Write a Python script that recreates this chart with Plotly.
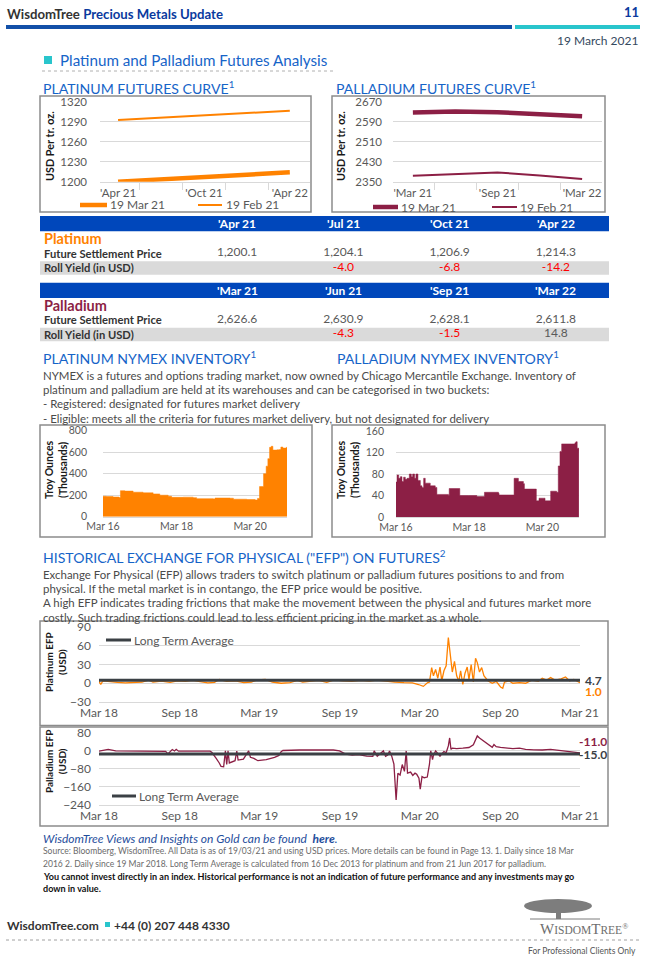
import plotly.graph_objects as go

# ---------------- DATA ----------------
pt_contracts = ["'Apr 21", "'Jul 21", "'Oct 21", "'Jan 22", "'Apr 22"]
pt_curve_mar = [1200.1, 1204.1, 1206.9, 1210.5, 1214.3]
pt_curve_feb = [1292.5, 1296.0, 1299.5, 1303.0, 1306.5]

pd_contracts = ["'Mar 21", "'Jun 21", "'Sep 21", "'Dec 21", "'Mar 22"]
pd_curve_mar = [2626.6, 2630.9, 2628.1, 2622.0, 2611.8]
pd_curve_feb = [2374.0, 2382.0, 2387.0, 2375.0, 2361.0]

curve_series = ["19 Mar 21", "19 Feb 21"]

pt_table_months = ["'Apr 21", "'Jul 21", "'Oct 21", "'Apr 22"]
pt_settle = [1200.1, 1204.1, 1206.9, 1214.3]
pt_roll = [None, -4.0, -6.8, -14.2]

pd_table_months = ["'Mar 21", "'Jun 21", "'Sep 21", "'Mar 22"]
pd_settle = [2626.6, 2630.9, 2628.1, 2611.8]
pd_roll = [None, -4.3, -1.5, 14.8]

table_rows = ["Future Settlement Price", "Roll Yield (in USD)"]

pt_inv_dates = ["2016-03-18", "2016-04-20", "2016-06-26", "2016-08-24", "2016-09-07", "2016-10-20",
                "2017-01-11", "2017-04-20", "2017-07-29", "2017-10-03", "2017-12-25", "2018-01-28",
                "2018-05-24", "2018-08-31", "2018-10-04", "2019-03-19", "2019-04-04", "2019-09-01",
                "2019-10-04", "2020-02-14", "2020-05-07", "2020-05-30", "2020-06-19", "2020-07-29",
                "2020-08-24", "2020-09-10", "2020-09-27", "2020-10-13", "2020-10-30", "2020-12-09",
                "2021-01-04", "2021-01-17", "2021-02-06", "2021-03-12", "2021-03-19"]
pt_inv_vals = [190, 188, 183, 178, 242, 238,
               228, 222, 212, 200, 190, 180,
               182, 177, 168, 165, 174, 172,
               163, 160, 155, 170, 280, 400,
               470, 540, 645, 655, 620, 622,
               625, 648, 638, 645, 645]

pd_inv_dates = ["2016-03-18", "2016-03-28", "2016-04-14", "2016-04-30", "2016-05-17", "2016-06-02",
                "2016-06-19", "2016-07-06", "2016-07-29", "2016-08-18", "2016-08-31", "2016-09-20",
                "2016-10-03", "2016-10-23", "2016-11-16", "2016-12-02", "2016-12-19", "2017-01-04",
                "2017-02-23", "2017-04-14", "2017-04-30", "2017-08-24", "2017-08-31", "2017-12-09",
                "2017-12-15", "2018-03-12", "2018-06-03", "2018-08-18", "2019-01-05", "2019-01-11",
                "2019-06-03", "2019-06-10", "2019-07-23", "2019-09-11", "2019-09-21", "2020-01-12",
                "2020-01-18", "2020-02-14", "2020-03-28", "2020-04-14", "2020-06-02", "2020-06-09",
                "2020-08-08", "2020-08-24", "2020-09-10", "2020-09-27", "2021-01-04", "2021-02-06",
                "2021-02-16", "2021-03-01", "2021-03-18"]
pd_inv_vals = [65, 78, 72, 75, 66, 74,
               70, 72, 80, 75, 80, 72,
               80, 68, 58, 55, 72, 63,
               58, 55, 42, 40, 53, 53,
               40, 40, 38, 46, 44, 41,
               41, 72, 66, 62, 52, 52,
               30, 35, 35, 30, 30, 48,
               46, 95, 122, 136, 136, 138,
               140, 128, 122]

pt_efp_dates = ["2018-03-19", "2018-03-23", "2018-03-28", "2018-04-12", "2018-04-30", "2018-05-18",
                "2018-06-08", "2018-06-25", "2018-07-10", "2018-07-20", "2018-08-08", "2018-08-28",
                "2018-09-14", "2018-10-02", "2018-10-18", "2018-11-05", "2018-11-22", "2018-12-07",
                "2018-12-18", "2019-01-04", "2019-01-24", "2019-02-12", "2019-03-01", "2019-03-15",
                "2019-04-02", "2019-04-18", "2019-05-08", "2019-05-28", "2019-06-14", "2019-06-26",
                "2019-07-12", "2019-08-01", "2019-08-20", "2019-09-06", "2019-09-25", "2019-10-16",
                "2019-11-05", "2019-11-25", "2019-12-12", "2020-01-02", "2020-01-22", "2020-02-12",
                "2020-03-02", "2020-03-16", "2020-03-27", "2020-04-06", "2020-04-10", "2020-04-15",
                "2020-04-19", "2020-04-24", "2020-04-29", "2020-05-04", "2020-05-08", "2020-05-13",
                "2020-05-18", "2020-05-23", "2020-05-28", "2020-06-01", "2020-06-06", "2020-06-11",
                "2020-06-16", "2020-06-20", "2020-06-25", "2020-06-30", "2020-07-05", "2020-07-09",
                "2020-07-14", "2020-07-19", "2020-07-24", "2020-07-28", "2020-08-02", "2020-08-07",
                "2020-08-12", "2020-08-16", "2020-08-21", "2020-08-31", "2020-09-09", "2020-09-19",
                "2020-09-24", "2020-09-28", "2020-10-08", "2020-10-17", "2020-11-01", "2020-11-15",
                "2020-11-29", "2020-12-14", "2020-12-23", "2021-01-02", "2021-01-11", "2021-01-21",
                "2021-02-04", "2021-02-14", "2021-02-23", "2021-03-05", "2021-03-14", "2021-03-19"]
pt_efp_vals = [3.0, -2.0, 4.0, 2.5, 1.5, 0.5,
               1.0, 2.0, 5.0, 2.0, 3.5, 1.5,
               4.0, 3.0, 4.5, 2.0, 0.5, 1.5,
               6.0, 3.0, 4.0, 1.0, 2.0, 5.5,
               6.0, 2.0, 0.0, 1.0, 4.5, 2.0,
               3.0, 4.5, 1.5, 5.5, 4.0, 3.0,
               4.5, 3.5, 5.0, 3.0, 2.0, 1.0,
               0.5, -2.0, -5.0, 1.0, 2.0, 25.0,
               12.0, 22.0, 8.0, 26.0, 4.0, 20.0,
               28.0, 73.0, 38.0, 18.0, 35.0, 12.0,
               3.0, 20.0, -2.0, 16.0, 26.0, 6.0,
               30.0, 2.0, 40.0, 33.0, 18.0, 25.0,
               12.0, 8.0, 4.0, 0.0, 3.0, -6.0,
               -8.0, 2.0, 4.0, 0.0, 1.0, 0.0,
               5.0, 3.0, 8.0, 5.0, 9.0, 5.0,
               7.0, 10.0, 4.0, 6.0, 2.0, 1.0]
PT_LTA = 4.7

pd_efp_dates = ["2018-03-19", "2018-04-09", "2018-04-26", "2018-06-03", "2018-07-11", "2018-08-18",
                "2018-08-23", "2018-08-28", "2018-09-02", "2018-09-07", "2018-09-11", "2018-09-16",
                "2018-10-24", "2018-11-27", "2018-12-01", "2018-12-06", "2018-12-11", "2018-12-18",
                "2018-12-22", "2018-12-28", "2019-01-01", "2019-01-04", "2019-01-07", "2019-01-10",
                "2019-01-16", "2019-01-23", "2019-01-27", "2019-01-30", "2019-02-11", "2019-02-23",
                "2019-02-27", "2019-03-07", "2019-03-16", "2019-04-04", "2019-04-23", "2019-05-03",
                "2019-05-08", "2019-05-12", "2019-06-19", "2019-07-28", "2019-09-04", "2019-09-18",
                "2019-09-23", "2019-10-02", "2019-10-17", "2019-10-31", "2019-11-19", "2019-12-03",
                "2019-12-06", "2019-12-13", "2019-12-27", "2020-01-01", "2020-01-06", "2020-01-10",
                "2020-01-15", "2020-01-20", "2020-01-25", "2020-01-29", "2020-02-03", "2020-02-08",
                "2020-02-13", "2020-02-17", "2020-02-20", "2020-02-27", "2020-03-03", "2020-03-08",
                "2020-03-12", "2020-03-17", "2020-03-20", "2020-03-24", "2020-03-29", "2020-04-05",
                "2020-04-10", "2020-04-13", "2020-04-17", "2020-04-19", "2020-04-24", "2020-04-29",
                "2020-05-04", "2020-05-08", "2020-05-13", "2020-05-18", "2020-05-23", "2020-05-26",
                "2020-05-29", "2020-06-01", "2020-06-11", "2020-06-25", "2020-07-09", "2020-07-19",
                "2020-07-28", "2020-08-02", "2020-08-12", "2020-08-21", "2020-08-31", "2020-09-04",
                "2020-09-09", "2020-09-19", "2020-10-03", "2020-10-17", "2020-11-01", "2020-11-15",
                "2020-12-04", "2020-12-23", "2021-01-11", "2021-01-26", "2021-02-09", "2021-02-18",
                "2021-03-05", "2021-03-14", "2021-03-19"]
pd_efp_vals = [-3, 5, -2, -3, -2, -4,
               -15, -5, 4, -2, 5, -3,
               -4, -3, -8, -20, -35, -55,
               -70, -72, -2, -62, -2, -55,
               -50, -45, -3, -42, -38, -2,
               -30, -35, -45, -40, -30, -22,
               -5, 0, 2, 1, 2, -2,
               -8, -16, -20, -18, -25, -26,
               -2, -25, -2, -26, -20, -2,
               -25, -60, -218, -100, -108, -62,
               -92, -2, -100, -95, -110, -100,
               -105, -122, -170, -115, -120, -117,
               -60, -2, -40, -22, -2, -12,
               -25, -15, -5, -10, 20, 55,
               5, 10, 8, 10, 13, 25,
               64, 55, 42, 30, 14, 26,
               17, 14, 10, 8, 10, 5,
               3, 2, 5, 2, -2, -5,
               -8, -10, -11.0]
PD_LTA = -15.0

# ---------------- STYLE / HELPERS ----------------
W, H = 650, 956
def X(p): return p / W
def Y(p): return 1 - p / H

FONT = "Lato"
ORANGE = "#FF8200"
WINE = "#8C1F45"
TITLE_BLUE = "#1664C8"
NAVY = "#0A3A9E"
TABLE_BLUE = "#0047BB"
TEAL = "#29C5CC"
GRAY_TXT = "#595959"
GRID = "#D9D9D9"
BOX = "#8C8C8C"
LTA_COL = "#3B4045"
def tickf(size): return dict(family=FONT, size=size, color=GRAY_TXT)
SEC = 14.1      # section title size
PARA = 11.45    # paragraph size

annotations = []
shapes = []

def txt(x, y, s, size=12, color="#3a3a3a", anchor="left", angle=0, family=FONT, xref="paper", yref="paper", xv=None, yv=None):
    annotations.append(dict(
        x=X(x) if xv is None else xv, y=Y(y) if yv is None else yv,
        xref=xref, yref=yref, text=s, showarrow=False,
        xanchor=anchor, yanchor="middle", textangle=angle,
        font=dict(family=family, size=size, color=color)))

def rect(x0, y0, x1, y1, fill=None, line=None, lw=1.5):
    shapes.append(dict(type="rect", xref="paper", yref="paper",
                       x0=X(x0), x1=X(x1), y0=Y(y0), y1=Y(y1),
                       fillcolor=fill if fill else "rgba(0,0,0,0)",
                       line=dict(color=line if line else "rgba(0,0,0,0)", width=lw if line else 0),
                       layer="below"))

def hline(x0, x1, y, color, width=1, dash="solid"):
    shapes.append(dict(type="line", xref="paper", yref="paper",
                       x0=X(x0), x1=X(x1), y0=Y(y), y1=Y(y),
                       line=dict(color=color, width=width, dash=dash)))

fig = go.Figure()

# ---------------- FUTURES CURVES ----------------
xi = list(range(len(pt_contracts)))
fig.add_trace(go.Scatter(x=xi, y=pt_curve_feb, mode="lines", line=dict(color=ORANGE, width=2),
                         xaxis="x", yaxis="y", name=curve_series[1]))
fig.add_trace(go.Scatter(x=xi, y=pt_curve_mar, mode="lines", line=dict(color=ORANGE, width=4.5),
                         xaxis="x", yaxis="y", name=curve_series[0]))
xi2 = list(range(len(pd_contracts)))
fig.add_trace(go.Scatter(x=xi2, y=pd_curve_feb, mode="lines", line=dict(color=WINE, width=2),
                         xaxis="x2", yaxis="y2", name=curve_series[1]))
fig.add_trace(go.Scatter(x=xi2, y=pd_curve_mar, mode="lines", line=dict(color=WINE, width=4.5),
                         xaxis="x2", yaxis="y2", name=curve_series[0]))

# ---------------- INVENTORY ----------------
fig.add_trace(go.Scatter(x=pt_inv_dates, y=pt_inv_vals, mode="lines",
                         line=dict(color=ORANGE, width=0.5, shape="hv"), fill="tozeroy",
                         fillcolor=ORANGE, xaxis="x3", yaxis="y3"))
fig.add_trace(go.Scatter(x=pd_inv_dates, y=pd_inv_vals, mode="lines",
                         line=dict(color=WINE, width=0.5, shape="hv"), fill="tozeroy",
                         fillcolor=WINE, xaxis="x4", yaxis="y4"))

# ---------------- EFP ----------------
fig.add_trace(go.Scatter(x=pt_efp_dates, y=pt_efp_vals, mode="lines",
                         line=dict(color=ORANGE, width=1.3), xaxis="x5", yaxis="y5"))
fig.add_trace(go.Scatter(x=[pt_efp_dates[0], pt_efp_dates[-1]], y=[PT_LTA, PT_LTA], mode="lines",
                         line=dict(color=LTA_COL, width=3), xaxis="x5", yaxis="y5"))
fig.add_trace(go.Scatter(x=pd_efp_dates, y=pd_efp_vals, mode="lines",
                         line=dict(color=WINE, width=1.3), xaxis="x6", yaxis="y6"))
fig.add_trace(go.Scatter(x=[pd_efp_dates[0], pd_efp_dates[-1]], y=[PD_LTA, PD_LTA], mode="lines",
                         line=dict(color=LTA_COL, width=3), xaxis="x6", yaxis="y6"))

# ---------------- TABLES ----------------
def table_traces(months, settle, roll, xa, ya):
    fig.add_trace(go.Scatter(x=months, y=[1] * len(months), mode="text",
                             text=[f"{v:,.1f}" for v in settle],
                             textfont=dict(family=FONT, size=12, color=GRAY_TXT),
                             xaxis=xa, yaxis=ya, hoverinfo="skip"))
    rm = [m for m, v in zip(months, roll) if v is not None]
    rv = [v for v in roll if v is not None]
    fig.add_trace(go.Scatter(x=rm, y=[2] * len(rm), mode="text",
                             text=[f"{v:.1f}" for v in rv],
                             textfont=dict(family=FONT, size=12,
                                           color=["#FF0000" if v < 0 else GRAY_TXT for v in rv]),
                             xaxis=xa, yaxis=ya, hoverinfo="skip"))

table_traces(pt_table_months, pt_settle, pt_roll, "x7", "y7")
table_traces(pd_table_months, pd_settle, pd_roll, "x8", "y8")

for trace in fig.data:
    trace.showlegend = False

# ---------------- AXES ----------------
def curve_x(d0, d1, anchor, rng, labels):
    return dict(domain=[X(d0), X(d1)], anchor=anchor, range=rng,
                tickmode="array", tickvals=[0, 2, 4], ticktext=[labels[i] for i in (0, 2, 4)],
                showgrid=False, zeroline=False, showline=True, linecolor=GRID, ticks="",
                minor=dict(tickmode="array", tickvals=[0.5, 1.5, 2.5, 3.5], ticks="outside",
                           ticklen=7, tickcolor=GRID, showgrid=False),
                tickfont=tickf(11.5), fixedrange=True, automargin=False)

def num_y(top, bot, anchor, rng, dtick, standoff=6, fs=12):
    return dict(domain=[Y(bot), Y(top)], anchor=anchor, range=rng, dtick=dtick, tick0=0,
                gridcolor=GRID, showline=False, zeroline=False, ticks="",
                tickfont=tickf(fs), ticklabelstandoff=standoff, fixedrange=True, automargin=False)

def date_x(d0, d1, anchor, rng, tick0, dtick, fs=12):
    return dict(domain=[X(d0), X(d1)], anchor=anchor, type="date", range=rng,
                tick0=tick0, dtick=dtick, tickformat="%b %y", showgrid=False, zeroline=False,
                showline=True, linecolor=GRID, ticks="", tickfont=tickf(fs), fixedrange=True,
                automargin=False)

axes = dict(
    xaxis=curve_x(100, 310, "y", [-0.42, 4.47], pt_contracts),
    yaxis=dict(num_y(101.7, 181.7, "x", [1200, 1320], 30, standoff=12, fs=11.5), tick0=1200),
    xaxis2=curve_x(393, 602, "y2", [-0.47, 4.47], pd_contracts),
    yaxis2=dict(num_y(101.7, 181.7, "x2", [2350, 2670], 80, standoff=10, fs=11.5), tick0=2350),
    xaxis3=date_x(103, 287, "y3", ["2016-03-18", "2021-03-19"], "2016-03-18", "M24", fs=10.5),
    yaxis3=num_y(430.7, 516.7, "x3", [0, 800], 200, standoff=15, fs=10.5),
    xaxis4=date_x(396, 579, "y4", ["2016-03-18", "2021-03-19"], "2016-03-18", "M24", fs=10.5),
    yaxis4=num_y(431, 517, "x4", [0, 160], 40, standoff=11, fs=10.5),
    xaxis5=date_x(99, 580, "y5", ["2018-03-19", "2021-03-19"], "2018-03-19", "M6"),
    yaxis5=dict(num_y(627, 702, "x5", [-30, 90], 30, standoff=7), tick0=-30),
    xaxis6=date_x(99, 580, "y6", ["2018-03-19", "2021-03-19"], "2018-03-19", "M6"),
    yaxis6=dict(num_y(732.3, 805, "x6", [-240, 80], 80, standoff=7), tick0=-240),
    xaxis7=dict(domain=[X(184), X(609)], anchor="y7", type="category", range=[-0.5, 3.5],
                visible=False, fixedrange=True),
    yaxis7=dict(domain=[Y(275), Y(231.3)], anchor="x7", range=[2.5, -0.5], visible=False, fixedrange=True),
    xaxis8=dict(domain=[X(184), X(609)], anchor="y8", type="category", range=[-0.5, 3.5],
                visible=False, fixedrange=True),
    yaxis8=dict(domain=[Y(341.3), Y(298)], anchor="x8", range=[2.5, -0.5], visible=False, fixedrange=True),
)

# ---------------- PAGE DECORATION ----------------
# Header
txt(5, 14, "<b>WisdomTree</b> <b><span style='color:%s'>Precious Metals Update</span></b>" % NAVY,
    size=13.2, color="#333333")
txt(641, 12, "<b>11</b>", size=13, color=NAVY, anchor="right")
rect(6, 25, 512, 29, fill="#1250A8")
rect(515, 25, 640, 29, fill=TEAL)
txt(640, 40, "19 March 2021", size=12, color="#34495E", anchor="right")
rect(44, 56, 52, 64, fill=TEAL)
txt(58, 60.5, "Platinum and Palladium Futures Analysis", size=15.2, color=TITLE_BLUE)
hline(42, 333, 71, "#B0B0B0", 1, "dot")

# Futures curve section
txt(41, 87, "PLATINUM FUTURES CURVE<sup>1</sup>", size=SEC, color=TITLE_BLUE)
txt(334, 87, "PALLADIUM FUTURES CURVE<sup>1</sup>", size=SEC, color=TITLE_BLUE)
rect(40, 96, 311, 212, line=BOX)
rect(332, 96, 605, 212, line=BOX)
txt(49, 146, "<b>USD Per tr. oz.</b>", size=10.8, color="#1a1a1a", angle=-90, anchor="center")
txt(340, 146, "<b>USD Per tr. oz.</b>", size=10.8, color="#1a1a1a", angle=-90, anchor="center")
# legends
hline(80, 107, 205, ORANGE, 4.5)
txt(108, 205, curve_series[0], size=12, color=GRAY_TXT)
hline(198, 222, 205, ORANGE, 2)
txt(224, 205, curve_series[1], size=12, color=GRAY_TXT)
hline(373, 398, 207, WINE, 4.5)
txt(399, 207, curve_series[0], size=12, color=GRAY_TXT)
hline(492, 517, 207, WINE, 2)
txt(518, 207, curve_series[1], size=12, color=GRAY_TXT)

# Tables
rect(40, 216, 609, 231.3, fill=TABLE_BLUE)
rect(40, 261.3, 609, 274.7, fill="#DADADA")
rect(40, 282.7, 609, 298, fill=TABLE_BLUE)
rect(40, 327.7, 609, 341.3, fill="#DADADA")
for m in pt_table_months:
    txt(0, 223.7, "<b>%s</b>" % m, size=12, color="white", anchor="center", xref="x7", xv=m)
for m in pd_table_months:
    txt(0, 290.3, "<b>%s</b>" % m, size=12, color="white", anchor="center", xref="x8", xv=m)
txt(42, 0, "<b>Platinum</b>", size=14.5, color=ORANGE, yref="y7", yv=0)
txt(42, 0, "<b>Palladium</b>", size=14.5, color=WINE, yref="y8", yv=0)
for i, r in enumerate(table_rows):
    txt(42, 0, "<b>%s</b>" % r, size=11.2, color="#333333", yref="y7", yv=i + 1)
    txt(42, 0, "<b>%s</b>" % r, size=11.2, color="#333333", yref="y8", yv=i + 1)

# NYMEX inventory section
txt(41, 357, "PLATINUM NYMEX INVENTORY<sup>1</sup>", size=SEC, color=TITLE_BLUE)
txt(335, 357, "PALLADIUM NYMEX INVENTORY<sup>1</sup>", size=SEC, color=TITLE_BLUE)
para1 = ["NYMEX is a futures and options trading market, now owned by Chicago Mercantile Exchange. Inventory of",
         "platinum and palladium are held at its warehouses and can be categorised in two buckets:",
         "- Registered: designated for futures market delivery",
         "- Eligible: meets all the criteria for futures market delivery, but not designated for delivery"]
for i, line in enumerate(para1):
    txt(41, 375 + i * 14.4, line, size=PARA, color="#4a4a4a")
rect(40, 425, 312, 537, line=BOX)
rect(332, 425, 605, 537, line=BOX)
txt(56, 470, "<b>Troy Ounces<br>(Thousands)</b>", size=10.5, color="#1a1a1a", angle=-90, anchor="center")
txt(348, 470, "<b>Troy Ounces<br>(Thousands)</b>", size=10.5, color="#1a1a1a", angle=-90, anchor="center")

# EFP section
txt(41, 556, "HISTORICAL EXCHANGE FOR PHYSICAL (\"EFP\") ON FUTURES<sup>2</sup>", size=SEC, color=TITLE_BLUE)
para2 = ["Exchange For Physical (EFP) allows traders to switch platinum or palladium futures positions to and from",
         "physical. If the metal market is in contango, the EFP price would be positive.",
         "A high EFP indicates trading frictions that make the movement between the physical and futures market more",
         "costly. Such trading frictions could lead to less efficient pricing in the market as a whole."]
for i, line in enumerate(para2):
    txt(41, 574 + i * 14.4, line, size=PARA, color="#4a4a4a")
rect(40, 621, 608, 725.5, line=BOX)
rect(40, 727, 608, 826, line=BOX)
txt(55, 662, "<b>Platinum EFP<br>(USD)</b>", size=10, color="#1a1a1a", angle=-90, anchor="center")
txt(55, 762, "<b>Palladium EFP<br>(USD)</b>", size=10, color="#1a1a1a", angle=-90, anchor="center")
hline(106, 131, 640, LTA_COL, 3)
txt(132, 640, "Long Term Average", size=12, color=GRAY_TXT)
hline(112, 136, 796, LTA_COL, 3)
txt(137, 796, "Long Term Average", size=12, color=GRAY_TXT)
txt(583, 680.5, "<b>%.1f</b>" % PT_LTA, size=12, color=LTA_COL)
txt(583, 691.5, "<b>%.1f</b>" % pt_efp_vals[-1], size=12, color=ORANGE)
txt(577, 741, "<b>%.1f</b>" % pd_efp_vals[-1], size=12, color=WINE)
txt(577, 754, "<b>%.1f</b>" % PD_LTA, size=12, color=LTA_COL)

# Footer
txt(41, 838, "<i>WisdomTree Views and Insights on Gold can be found  <b>here</b>.</i>", size=12, color="#1F4E9C")
src = ["Source: Bloomberg, WisdomTree. All Data is as of 19/03/21 and using USD prices. More details can be found in Page 13. 1. Daily since 18 Mar",
       "2016 2. Daily since 19 Mar 2018. Long Term Average is calculated from 16 Dec 2013 for platinum and from 21 Jun 2017 for palladium."]
for i, line in enumerate(src):
    txt(41, 851 + i * 13, line, size=8.55, color="#6b6b6b")
disc = ["You cannot invest directly in an index. Historical performance is not an indication of future performance and any investments may go",
        "down in value."]
for i, line in enumerate(disc):
    txt(41, 876 + i * 12, "<b>%s</b>" % line, size=9.05, color="#111111")

txt(5, 925, "<b>WisdomTree.com</b>", size=12, color="#333333")
rect(105, 922, 110, 927, fill=TEAL)
txt(112, 925, "<b>+44 (0) 207 448 4330</b>", size=12, color="#333333")
hline(6, 640, 940, "#A0A0A0", 1, "dot")
txt(638, 951, "For Professional Clients Only", size=8.5, color="#555555", anchor="right")
# logo
shapes.append(dict(type="circle", xref="paper", yref="paper", x0=X(524), x1=X(592), y0=Y(913), y1=Y(899),
                   fillcolor="#7d7d7d", line=dict(width=0)))
shapes.append(dict(type="rect", xref="paper", yref="paper", x0=X(556), x1=X(561), y0=Y(919), y1=Y(910),
                   fillcolor="#7d7d7d", line=dict(width=0)))
hline(530, 600, 919, "#7d7d7d", 1)
txt(584, 929, "<span style='font-size:15px'>W</span>ISDOM<span style='font-size:15px'>T</span>REE<sup>®</sup>",
    size=11.5, color="#6e6e6e", anchor="center", family="Liberation Serif")

fig.update_layout(
    width=W, height=H, margin=dict(l=0, r=0, t=0, b=0, pad=0, autoexpand=False),
    paper_bgcolor="white", plot_bgcolor="white",
    showlegend=False, annotations=annotations, shapes=shapes,
    font=dict(family=FONT, color=GRAY_TXT),
    **axes)

fig.write_html("out.html", config={"displayModeBar": False},
               post_script="document.body.style.margin='0px';document.body.style.padding='0px';"
                           "document.body.style.overflow='hidden';")
